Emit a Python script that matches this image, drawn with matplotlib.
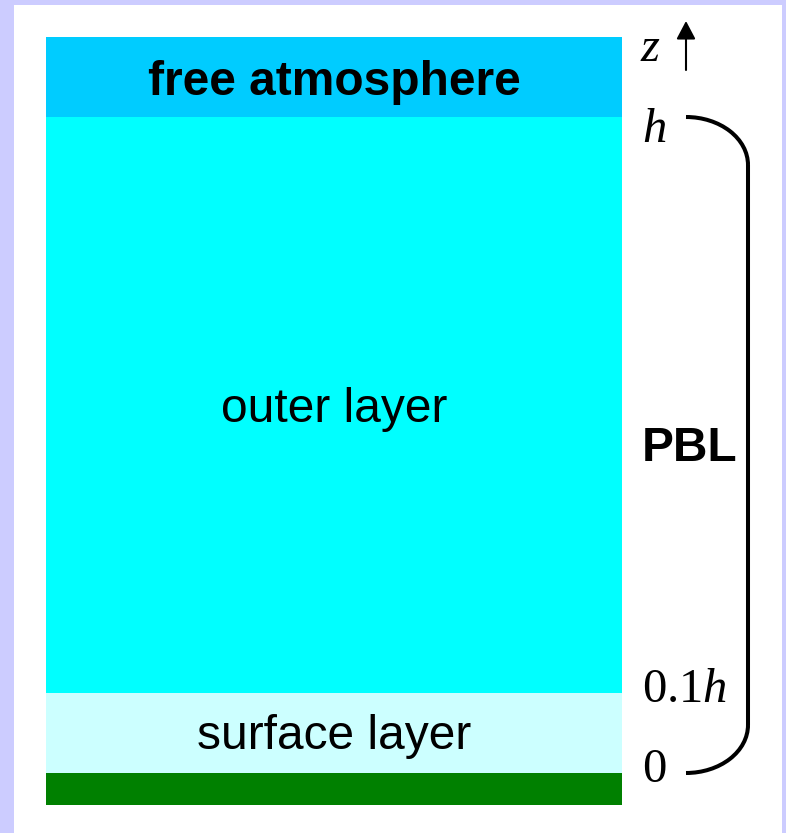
import matplotlib
matplotlib.use('Agg')
import matplotlib.pyplot as plt
from matplotlib.patches import Rectangle, Arc

plt.rcParams['mathtext.fontset'] = 'custom'
plt.rcParams['mathtext.rm'] = 'Liberation Serif'
plt.rcParams['mathtext.it'] = 'Liberation Serif:italic'

# layers, top to bottom (pixel rows of the original sketch)
layer_names = ['free atmosphere', 'outer layer', 'surface layer', '']
layer_tops = [37, 117, 693, 773]
layer_bottoms = [117, 693, 773, 805]
layer_colors = ['#00ccff', '#00ffff', '#ccffff', '#008000']
layer_bold = [True, False, False, False]
label_baselines = [95, 422, 749, None]

# height marks on the right
height_labels = ['$h$', '$0.1h$', '$0$']
height_baselines = [142, 702, 782]

W, H = 786, 833
fig = plt.figure(figsize=(W / 100, H / 100), dpi=100, facecolor='#ccccff')
ax = fig.add_axes([0, 0, 1, 1])
ax.set_xlim(0, W)
ax.set_ylim(H, 0)
ax.axis('off')

ax.add_patch(Rectangle((14, 5), 768, 828, facecolor='white', edgecolor='none'))

x0, x1 = 46, 622
for name, top, bot, col, bold, base in zip(layer_names, layer_tops, layer_bottoms,
                                            layer_colors, layer_bold, label_baselines):
    ax.add_patch(Rectangle((x0, top), x1 - x0, bot - top, facecolor=col, edgecolor='none'))
    if name:
        ax.text((x0 + x1) / 2, base, name, ha='center', va='baseline',
                family='Liberation Sans', fontsize=34.5,
                fontweight='bold' if bold else 'normal')

# z axis arrow
ax.text(640, 61, '$z$', ha='left', va='baseline', fontsize=35)
ax.annotate('', xy=(686, 21), xytext=(686, 70),
            arrowprops=dict(arrowstyle='-|>,head_width=0.58,head_length=1.1',
                            mutation_scale=10, lw=1.5, color='black',
                            shrinkA=0, shrinkB=0))

for lab, base in zip(height_labels, height_baselines):
    ax.text(642, base, lab, ha='left', va='baseline', fontsize=35)

# PBL bracket
lw = 2.9
top_y, bot_y = layer_tops[1], layer_bottoms[2]
bx, ex = 686, 748
rx, ry = ex - bx, 48
ax.add_patch(Arc((bx, top_y + ry), 2 * rx, 2 * ry, theta1=270, theta2=360, lw=lw, color='black'))
ax.add_patch(Arc((bx, bot_y - ry), 2 * rx, 2 * ry, theta1=0, theta2=90, lw=lw, color='black'))
ax.plot([ex, ex], [top_y + ry, bot_y - ry], color='black', lw=lw, solid_capstyle='butt')

ax.text(690, 461, 'PBL', ha='center', va='baseline', family='Liberation Sans',
        fontsize=34.5, fontweight='bold')

fig.savefig('out.png', dpi=100, facecolor=fig.get_facecolor())
